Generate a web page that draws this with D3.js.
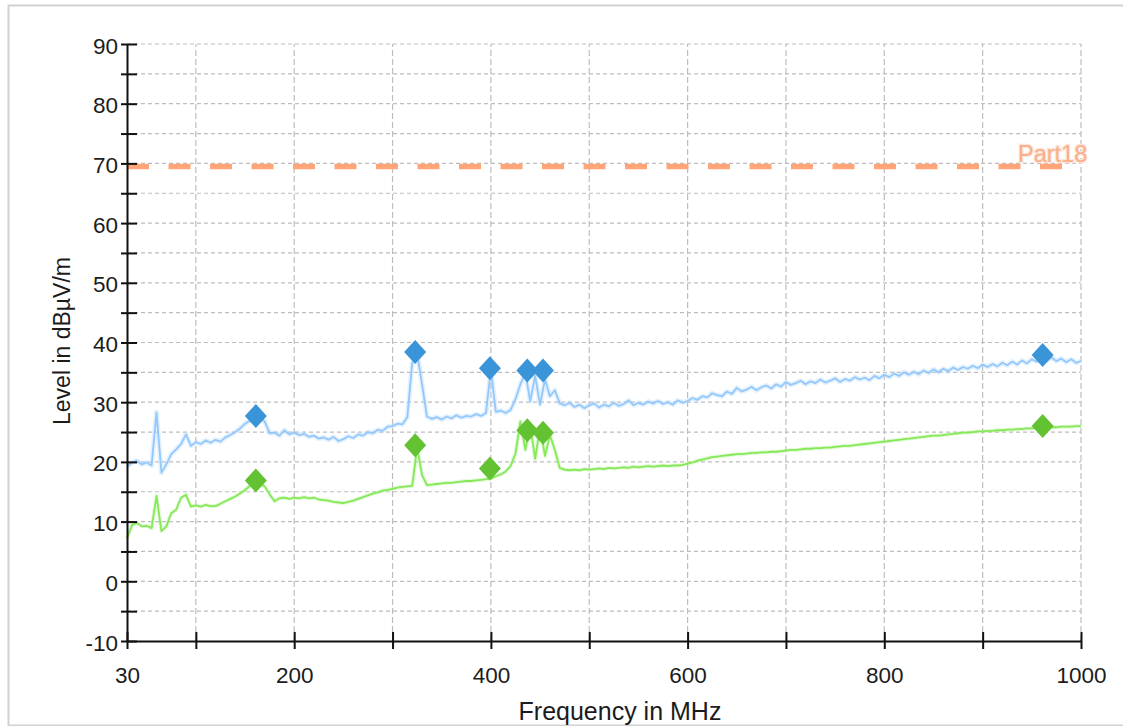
<!DOCTYPE html>
<html>
<head>
<meta charset="utf-8">
<script src="https://cdn.jsdelivr.net/npm/d3@7"></script>
<style>
  html, body { margin: 0; padding: 0; background: #ffffff; }
  svg { display: block; }
  text { font-family: "Liberation Sans", Arial, sans-serif; }
</style>
</head>
<body>
<svg id="chart" width="1123" height="726"></svg>
<script>
// ---- Data ----
const freqStart = 30;          // MHz, first sample
const freqStep = 5;            // MHz, sample spacing

// Peak (max-hold) trace, dBµV/m, one value every 5 MHz from 30 to 1000 MHz
const peakTrace = [
  19.2, 19.9, 20.2, 19.6, 19.9, 19.4, 28.3, 18.2, 19.6, 21.3,
  22.1, 23.0, 24.6, 22.7, 23.3, 23.0, 23.6, 23.2, 23.7, 23.4,
  24.1, 24.5, 25.0, 25.6, 26.4, 26.9, 27.5, 27.2, 26.8, 24.8,
  24.9, 24.4, 25.3, 24.6, 24.9, 24.5, 24.7, 24.2, 24.4, 23.9,
  24.1, 23.7, 24.2, 23.5, 23.8, 24.3, 24.0, 24.6, 24.4, 25.0,
  24.8, 25.4, 25.2, 25.9, 26.0, 26.4, 26.3, 27.5, 36.5, 38.2,
  33.0, 27.6, 27.2, 27.5, 27.1, 27.6, 27.3, 27.8, 27.4, 27.7,
  27.6, 28.0, 27.7, 28.2, 35.4, 28.4, 28.6, 28.2, 28.7, 30.5,
  33.0, 34.9, 30.2, 34.4, 29.6, 33.8, 31.0, 32.0, 29.8, 29.5,
  29.9, 29.2, 29.6, 29.0, 29.5, 29.8, 29.1, 29.6, 29.3, 29.9,
  29.4, 29.7, 30.3, 29.5, 29.9, 29.6, 30.1, 29.8, 30.2, 29.7,
  30.0, 29.6, 30.3, 29.9, 30.2, 30.7, 30.4, 31.0, 30.8, 31.5,
  31.2, 31.0, 31.8, 31.4, 32.4, 31.8, 32.1, 32.6, 32.0, 32.5,
  32.8, 32.3, 33.0, 32.6, 33.4, 32.9, 33.2, 33.6, 33.0, 33.5,
  33.2, 33.8, 33.3, 33.6, 34.0, 33.4, 33.9, 33.6, 34.2, 33.8,
  34.1, 33.7, 34.4, 34.0, 34.6, 34.2, 34.8, 34.4, 35.0, 34.6,
  35.1, 34.7, 35.3, 34.9, 35.5, 35.0, 35.6, 35.2, 35.8, 35.4,
  35.9, 35.6, 36.1, 35.7, 36.3, 35.9, 36.4, 36.0, 36.6, 36.2,
  36.8, 36.3, 37.0, 36.5, 37.2, 36.8, 37.4, 37.0, 37.5, 36.9,
  37.3, 36.7, 37.2, 36.6, 36.9
];

// Average trace, dBµV/m, same frequency grid
const avgTrace = [
  7.2, 9.4, 9.8, 9.2, 9.3, 8.9, 14.3, 8.4, 9.2, 11.4,
  12.0, 14.0, 14.5, 12.5, 12.7, 12.5, 12.8, 12.6, 12.6, 13.0,
  13.4, 13.8, 14.2, 14.7, 15.3, 16.0, 16.7, 16.4, 15.9, 14.6,
  13.4, 13.9, 14.0, 13.8, 14.0, 13.9, 14.1, 13.9, 14.0, 13.7,
  13.6, 13.5, 13.3, 13.2, 13.1, 13.3, 13.5, 13.8, 14.1, 14.4,
  14.7, 14.9, 15.2, 15.3, 15.5, 15.7, 15.8, 15.9, 16.0, 22.4,
  17.8, 16.1, 16.2, 16.3, 16.4, 16.5, 16.5, 16.6, 16.7, 16.8,
  16.8, 16.9, 17.0, 17.1, 17.2, 17.6, 17.9, 18.4, 19.3, 21.4,
  26.8, 22.0, 26.0, 20.5, 25.8, 21.0, 24.5, 22.0, 19.0, 18.7,
  18.6, 18.7, 18.6, 18.8, 18.7, 18.8, 18.9, 18.8, 19.0, 18.9,
  19.0, 19.1, 19.0, 19.2, 19.1, 19.2, 19.3, 19.2, 19.3, 19.4,
  19.3, 19.4, 19.4, 19.5, 19.7, 19.9, 20.2, 20.4, 20.6, 20.8,
  20.9, 21.0, 21.1, 21.2, 21.3, 21.3, 21.4, 21.5, 21.5, 21.6,
  21.6, 21.7, 21.7, 21.8, 21.9, 22.0, 22.0, 22.1, 22.2, 22.2,
  22.3, 22.3, 22.4, 22.4, 22.5, 22.6, 22.7, 22.7, 22.8, 22.9,
  23.0, 23.1, 23.2, 23.3, 23.4, 23.5, 23.6, 23.7, 23.8, 23.9,
  24.0, 24.1, 24.2, 24.3, 24.4, 24.4, 24.5, 24.6, 24.7, 24.8,
  24.9, 24.9, 25.0, 25.1, 25.1, 25.2, 25.2, 25.3, 25.3, 25.4,
  25.4, 25.5, 25.5, 25.6, 25.6, 25.7, 25.7, 25.8, 25.8, 25.8,
  25.9, 25.9, 25.9, 26.0, 26.0
];

// Final measurement points
const finalFreqs = [161, 323, 399, 437, 453, 961];
const finalPeak  = [27.7, 38.4, 35.7, 35.3, 35.3, 37.9];
const finalAvg   = [16.9, 22.8, 18.9, 25.3, 24.9, 26.0];

// Limit line
const limitName = "Part18";
const limitFreqs = [30, 1000];
const limitLevels = [69.5, 69.5];

// Axes
const xDomain = [30, 1000];
const yDomain = [-10, 90];
const xTickValues = [30, 100, 200, 300, 400, 500, 600, 700, 800, 900, 1000];
const xTickLabels = [30, 200, 400, 600, 800, 1000];
const yTickValues = [-10, -5, 0, 5, 10, 15, 20, 25, 30, 35, 40, 45, 50, 55, 60, 65, 70, 75, 80, 85, 90];
const xTitle = "Frequency in MHz";
const yTitle = "Level in dBµV/m";

// ---- Drawing ----
const svg = d3.select("#chart");
const x = d3.scaleLinear().domain(xDomain).range([127, 1081]);
const y = d3.scaleLinear().domain(yDomain).range([641, 44]);

const freqOf = i => freqStart + i * freqStep;

// outer frame
svg.append("path")
  .attr("d", "M1123,5.5 H8.5 V725.5 H1123")
  .attr("fill", "none").attr("stroke", "#d2d2d2").attr("stroke-width", 2);

// grid
const grid = svg.append("g");
grid.selectAll("line.h").data(yTickValues.filter(d => d > yDomain[0]))
  .join("line").attr("class", "h")
  .attr("x1", x(xDomain[0])).attr("x2", x(xDomain[1]))
  .attr("y1", d => y(d)).attr("y2", d => y(d))
  .attr("stroke", "#bdbdbd").attr("stroke-width", 1.2).attr("stroke-dasharray", "4,3");
grid.selectAll("line.v").data(xTickValues.filter(d => d > xDomain[0]))
  .join("line").attr("class", "v")
  .attr("x1", d => x(d)).attr("x2", d => x(d))
  .attr("y1", y(yDomain[0])).attr("y2", y(yDomain[1]))
  .attr("stroke", "#bdbdbd").attr("stroke-width", 1.2).attr("stroke-dasharray", "6,3");

// limit line
const limitData = limitFreqs.map((f, i) => [f, limitLevels[i]]);
svg.append("path")
  .datum(limitData)
  .attr("d", d3.line().x(d => x(d[0])).y(d => y(d[1])))
  .attr("fill", "none").attr("stroke", "#ffa578").attr("stroke-width", 5.5)
  .attr("stroke-dasharray", "22,19.5");
svg.append("text")
  .attr("x", x(limitFreqs[1]) - 63).attr("y", y(limitLevels[1]) - 4)
  .attr("fill", "#f9ae88").attr("font-size", 23.5)
  .attr("stroke", "#fde6da").attr("stroke-width", 2.5).attr("paint-order", "stroke")
  .text(limitName);

// traces
const lineGen = d3.line().x((d, i) => x(freqOf(i))).y(d => y(d));
function trace(data, color, halo, haloW) {
  svg.append("path").datum(data).attr("d", lineGen)
    .attr("fill", "none").attr("stroke", halo).attr("stroke-width", haloW)
    .attr("stroke-opacity", 0.4).attr("stroke-linejoin", "round");
  svg.append("path").datum(data).attr("d", lineGen)
    .attr("fill", "none").attr("stroke", color).attr("stroke-width", 1.8)
    .attr("stroke-linejoin", "round");
}
trace(peakTrace, "#94c8fb", "#b9dcfd", 5);
trace(avgTrace, "#86e858", "#b5f29a", 4);

// markers
function diamonds(vals, color) {
  svg.append("g").selectAll("path").data(vals).join("path")
    .attr("transform", (d, i) => `translate(${x(finalFreqs[i])},${y(d)})`)
    .attr("d", "M0,-12 L11,0 L0,12 L-11,0 Z")
    .attr("fill", color);
}
diamonds(finalPeak, "#3a94d8");
diamonds(finalAvg, "#62c232");

// axes
const yAxis = d3.axisLeft(y).tickValues(yTickValues).tickSize(6).tickSizeOuter(0)
  .tickPadding(3).tickFormat(d => d % 10 === 0 ? d : "");
const gy = svg.append("g").attr("transform", `translate(${x(xDomain[0])},0)`).call(yAxis);
gy.select(".domain").attr("stroke", "#111").attr("stroke-width", 2);
gy.selectAll(".tick line").attr("x1", 10).attr("stroke", "#111").attr("stroke-width", 2);
gy.selectAll(".tick text").attr("font-size", 22.5).attr("fill", "#1c1c1c")
  .attr("font-family", "Liberation Sans, Arial, sans-serif").attr("dy", "0.4em");

const xAxis = d3.axisBottom(x).tickValues(xTickValues).tickSize(8).tickSizeOuter(0)
  .tickPadding(18).tickFormat(d => xTickLabels.includes(d) ? d : "");
const gx = svg.append("g").attr("transform", `translate(0,${y(yDomain[0])})`).call(xAxis);
gx.select(".domain").attr("stroke", "#111").attr("stroke-width", 2);
gx.selectAll(".tick line").attr("y1", -9).attr("stroke", "#111").attr("stroke-width", 2);
gx.selectAll(".tick text").attr("font-size", 22.5).attr("fill", "#1c1c1c")
  .attr("font-family", "Liberation Sans, Arial, sans-serif");

// titles
svg.append("text")
  .attr("transform", "translate(70,341) rotate(-90)")
  .attr("text-anchor", "middle").attr("font-size", 23).attr("fill", "#1c1c1c")
  .text(yTitle);
svg.append("text")
  .attr("x", 620).attr("y", 720)
  .attr("text-anchor", "middle").attr("font-size", 25).attr("fill", "#1c1c1c")
  .text(xTitle);
</script>
</body>
</html>
